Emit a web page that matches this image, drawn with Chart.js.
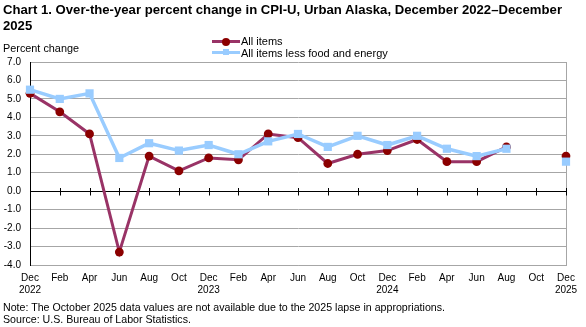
<!DOCTYPE html>
<html>
<head>
<meta charset="utf-8">
<script src="https://cdn.jsdelivr.net/npm/chart.js@4.4.1/dist/chart.umd.min.js"></script>
<style>
  html, body { margin:0; padding:0; background:#fff; }
  #wrap { position:relative; width:586px; height:327px; overflow:hidden; font-family:"Liberation Sans", Arial, sans-serif; color:#000; }
  #wrap canvas { position:absolute; left:0; top:0; }
  .t { position:absolute; white-space:nowrap; transform-origin:0 0; }
  .title { font-weight:bold; font-size:13px; line-height:15px; }
  .lg-line { position:absolute; height:3px; }
</style>
</head>
<body>
<div id="wrap">
  <canvas id="c" width="586" height="327"></canvas>
  <div class="t title" id="title1" style="left:3px; top:2px;">Chart 1. Over-the-year percent change in CPI-U, Urban Alaska, December 2022–December</div>
  <div class="t title" id="title2" style="left:3px; top:18px;">2025</div>
  <div class="t" id="ylab" style="left:3px; top:42px; font-size:11px; line-height:13px;">Percent change</div>

  <div class="lg-line" style="left:212px; top:40px; width:28px; background:#993366;"></div>
  <div style="position:absolute; left:222px; top:37.5px; width:8px; height:8px; border-radius:50%; background:#8b0000;"></div>
  <div class="t" style="left:241px; top:35px; font-size:11px; line-height:12px;">All items</div>

  <div class="lg-line" style="left:212px; top:51px; width:28px; background:#99ccff;"></div>
  <div style="position:absolute; left:223px; top:49px; width:6px; height:6px; background:#99ccff;"></div>
  <div class="t" style="left:241px; top:47px; font-size:11px; line-height:12px;">All items less food and energy</div>

  <div class="t" id="note" style="left:3px; top:301px; font-size:10.5px; line-height:13px;">Note: The October 2025 data values are not available due to the 2025 lapse in appropriations.</div>
  <div class="t" id="src" style="left:3px; top:313px; font-size:10.5px; line-height:13px;">Source: U.S. Bureau of Labor Statistics.</div>
</div>
<script>
// ---- Data ----
const categories = [["Dec","2022"],"Feb","Apr","Jun","Aug","Oct",["Dec","2023"],"Feb","Apr","Jun","Aug","Oct",["Dec","2024"],"Feb","Apr","Jun","Aug","Oct",["Dec","2025"]];
const allItems      = [5.3, 4.3, 3.1, -3.3, 1.9, 1.1, 1.8, 1.7, 3.1, 2.9, 1.5, 2.0, 2.2, 2.8, 1.6, 1.6, 2.4, null, 1.9];
const lessFoodEnergy = [5.5, 5.0, 5.3, 1.8, 2.6, 2.2, 2.5, 2.0, 2.7, 3.1, 2.4, 3.0, 2.5, 3.0, 2.3, 1.9, 2.3, null, 1.6];
const yMin = -4, yMax = 7, yStep = 1;

// ---- fit text widths ----
function fit(id, w) {
  const el = document.getElementById(id);
  const nat = el.getBoundingClientRect().width;
  const s = w / nat;
  el.style.transform = 'scaleX(' + s + ')';
  return s;
}
const ts = fit('title1', 559);
document.getElementById('title2').style.transform = 'scaleX(' + ts + ')';
fit('ylab', 76);
const ns = fit('note', 442);
document.getElementById('src').style.transform = 'scaleX(' + ns + ')';

const axisFont = { family: "'Liberation Sans', Arial, sans-serif", size: 10, lineHeight: 1.2 };

const framePlugin = {
  id: 'frame',
  beforeDatasetsDraw(chart) {
    const { ctx, chartArea: a, scales: { x, y } } = chart;
    ctx.save();
    ctx.strokeStyle = '#a6a6a6';
    ctx.lineWidth = 1;
    ctx.beginPath();
    ctx.moveTo(Math.round(a.right) + 0.5, a.top);
    ctx.lineTo(Math.round(a.right) + 0.5, a.bottom);
    ctx.stroke();
    const y0 = Math.round(y.getPixelForValue(0)) + 0.5;
    ctx.strokeStyle = '#000';
    ctx.beginPath();
    for (let i = 1; i < categories.length; i++) {
      const px = Math.round(x.getPixelForTick(i)) + 0.5;
      ctx.moveTo(px, y0 - 3.5);
      ctx.lineTo(px, y0 + 4);
    }
    ctx.stroke();
    ctx.restore();
  }
};

new Chart(document.getElementById('c'), {
  type: 'line',
  data: {
    labels: categories,
    datasets: [
      {
        label: 'All items less food and energy',
        data: lessFoodEnergy,
        borderColor: '#99ccff',
        backgroundColor: '#99ccff',
        borderWidth: 3.5,
        pointStyle: 'rect',
        pointRadius: 5.8,
        pointBorderWidth: 0,
        pointBackgroundColor: '#99ccff',
        tension: 0,
        spanGaps: false,
        clip: false
      },
      {
        label: 'All items',
        data: allItems,
        borderColor: '#993366',
        backgroundColor: '#8b0000',
        borderWidth: 3,
        pointStyle: 'circle',
        pointRadius: 4.4,
        pointBorderWidth: 0,
        pointBackgroundColor: '#8b0000',
        tension: 0,
        spanGaps: false,
        clip: false
      }
    ]
  },
  options: {
    responsive: false,
    animation: false,
    devicePixelRatio: 1,
    layout: { padding: { left: 0, right: 20, top: 62, bottom: 32 } },
    plugins: { legend: { display: false }, tooltip: { enabled: false }, title: { display: false } },
    events: [],
    scales: {
      x: {
        type: 'category',
        offset: false,
        afterFit(s) { s.height = 30; },
        grid: { display: false, drawTicks: false },
        border: { display: true, color: '#a6a6a6', width: 1 },
        ticks: { autoSkip: false, maxRotation: 0, minRotation: 0, padding: 7, color: '#000', font: axisFont }
      },
      y: {
        min: yMin, max: yMax,
        afterFit(s) { s.width = 30; },
        grid: {
          drawTicks: false,
          color: ctx => (ctx.tick && ctx.tick.value === 0) ? '#000' : '#a6a6a6',
          lineWidth: 1
        },
        border: { display: true, color: '#000', width: 1 },
        ticks: {
          stepSize: yStep, padding: 9, color: '#000', font: axisFont,
          callback: v => Number(v).toFixed(1)
        }
      }
    }
  },
  plugins: [framePlugin]
});
</script>
</body>
</html>
